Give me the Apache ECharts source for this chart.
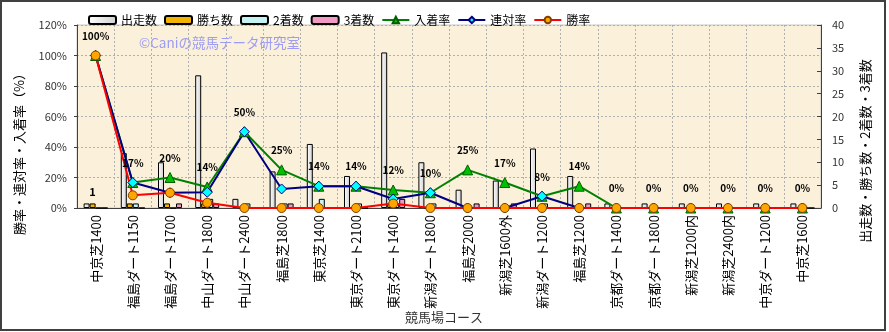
<!DOCTYPE html>
<html><head><meta charset="utf-8">
<script src="https://cdn.jsdelivr.net/npm/echarts@6/dist/echarts.min.js"></script>
<style>html,body{margin:0;padding:0;background:#fff;}#c{width:889px;height:332px;}</style>
</head><body><div id="c"></div>
<script>
const categories = ['中京芝1400','福島ダート1150','福島ダート1700','中山ダート1800','中山ダート2400','福島芝1800','東京芝1400','東京ダート2100','東京ダート1400','新潟ダート1800','福島芝2000','新潟芝1600外','新潟ダート1200','福島芝1200','京都ダート1400','京都ダート1800','新潟芝1200内','新潟芝2400内','中京ダート1200','中京芝1600'];
const starts   = [1,12,10,29,2,8,14,7,34,10,4,6,13,7,1,1,1,1,1,1];
const wins     = [1,1,1,1,0,0,0,0,1,0,0,0,0,0,0,0,0,0,0,0];
const seconds  = [0,1,0,2,1,1,2,1,1,1,0,0,1,0,0,0,0,0,0,0];
const thirds   = [0,0,1,1,0,1,0,0,2,0,1,1,0,1,0,0,0,0,0,0];
const placeRate  = [100,16.7,20,13.8,50,25,14.3,14.3,11.8,10,25,16.7,7.7,14.3,0,0,0,0,0,0];
const rentaiRate = [100,16.7,10,10.3,50,12.5,14.3,14.3,5.9,10,0,0,7.7,0,0,0,0,0,0,0];
const winRate    = [100,8.3,10,3.4,0,0,0,0,2.9,0,0,0,0,0,0,0,0,0,0,0];
const leftTicks = {min:0, max:120, interval:20};
const rightTicks = {min:0, max:40, interval:5};

const FONT = '"Noto Sans CJK JP", "Noto Sans", sans-serif';
const chart = echarts.init(document.getElementById('c'), null, {renderer:'canvas'});
const barBorder = {borderColor:'#000', borderWidth:1};
const winsData = wins.map((v,i)=> i===0 ? {value:v, label:{show:true, position:'top', distance:6, formatter:'{c}', fontSize:11, fontWeight:'bold', color:'#000', fontFamily:FONT}} : v);

const option = {
  animation:false,
  backgroundColor:'#fff',
  textStyle:{fontFamily:FONT},
  legend:{
    left:83, top:9, itemWidth:27, itemHeight:8, itemGap:7,
    textStyle:{fontSize:12, color:'#000', fontFamily:FONT},
    data:['出走数','勝ち数','2着数','3着数','入着率','連対率','勝率']
  },
  grid:{left:77, right:68, top:25, bottom:124, show:true, backgroundColor:'#fbf0da', borderColor:'#c8c8c8', borderWidth:1},
  xAxis:{
    type:'category', data:categories, boundaryGap:true,
    axisLine:{lineStyle:{color:'#404040', width:1}},
    axisTick:{show:false},
    axisLabel:{rotate:90, margin:7, fontSize:13, color:'#000', fontFamily:FONT, interval:0},
    splitLine:{show:true, interval:0, lineStyle:{color:'#b0b0b0', type:[2,2], width:1}}
  },
  yAxis:[
    {type:'value', min:leftTicks.min, max:leftTicks.max, interval:leftTicks.interval,
     axisLine:{show:true, lineStyle:{color:'#404040'}},
     axisTick:{show:true, length:3, lineStyle:{color:'#404040'}},
     axisLabel:{formatter:'{value}%', fontSize:11, color:'#333', margin:10},
     splitLine:{show:true, lineStyle:{color:'#b0b0b0', type:[2,2]}}},
    {type:'value', min:rightTicks.min, max:rightTicks.max, interval:rightTicks.interval, position:'right',
     axisLine:{show:true, lineStyle:{color:'#404040'}},
     axisTick:{show:true, inside:true, length:4, lineStyle:{color:'#404040'}},
     axisLabel:{fontSize:11, color:'#333', margin:11},
     splitLine:{show:false}}
  ],
  series:[
    {name:'出走数', type:'bar', yAxisIndex:1, data:starts, barWidth:6, barGap:'0%',
     itemStyle:Object.assign({color:new echarts.graphic.LinearGradient(0,0,1,0,[{offset:0,color:'#ffffff'},{offset:1,color:'#d0d0d0'}])}, barBorder)},
    {name:'勝ち数', type:'bar', yAxisIndex:1, data:winsData, barWidth:6, barGap:'0%',
     itemStyle:Object.assign({color:'#f2b400'}, barBorder)},
    {name:'2着数', type:'bar', yAxisIndex:1, data:seconds, barWidth:6, barGap:'0%',
     itemStyle:Object.assign({color:'#c4f2f2'}, barBorder)},
    {name:'3着数', type:'bar', yAxisIndex:1, data:thirds, barWidth:6, barGap:'0%',
     itemStyle:Object.assign({color:'#f29ac6'}, barBorder)},
    {name:'入着率', type:'line', yAxisIndex:0, data:placeRate, symbol:'triangle', symbolSize:10,
     lineStyle:{color:'#008000', width:2}, itemStyle:{color:'#00c000', borderColor:'#006000', borderWidth:1},
     label:{show:true, position:'top', distance:9, fontSize:10, fontWeight:'bold', color:'#000',
            formatter:p=>Math.round(p.value)+'%'}},
    {name:'連対率', type:'line', yAxisIndex:0, data:rentaiRate, symbol:'diamond', symbolSize:10,
     lineStyle:{color:'#000080', width:2}, itemStyle:{color:'#00ffff', borderColor:'#000080', borderWidth:1}},
    {name:'勝率', type:'line', yAxisIndex:0, data:winRate, symbol:'circle', symbolSize:9,
     lineStyle:{color:'#ff0000', width:2}, itemStyle:{color:'#ffa500', borderColor:'#804000', borderWidth:1}}
  ],
  graphic:[
    {type:'rect', shape:{x:1, y:1, width:884, height:329}, style:{fill:'none', stroke:'#404040', lineWidth:2}, silent:true, z:100},
    {type:'text', x:139, y:43, style:{text:'©Caniの競馬データ研究室', fill:'#9c9cf4', font:'13.5px '+FONT, textVerticalAlign:'middle'}, silent:true, z:50},
    {type:'text', x:19, y:151, rotation:Math.PI/2, style:{text:'勝率・連対率・入着率（%）', fill:'#000', font:'13px '+FONT, textAlign:'center', textVerticalAlign:'middle'}},
    {type:'text', x:865, y:151, rotation:Math.PI/2, style:{text:'出走数・勝ち数・2着数・3着数', fill:'#000', font:'13px '+FONT, textAlign:'center', textVerticalAlign:'middle'}},
    {type:'text', x:444, y:317, style:{text:'競馬場コース', fill:'#333', font:'13px '+FONT, textAlign:'center', textVerticalAlign:'middle'}}
  ]
};
chart.setOption(option);
</script></body></html>
